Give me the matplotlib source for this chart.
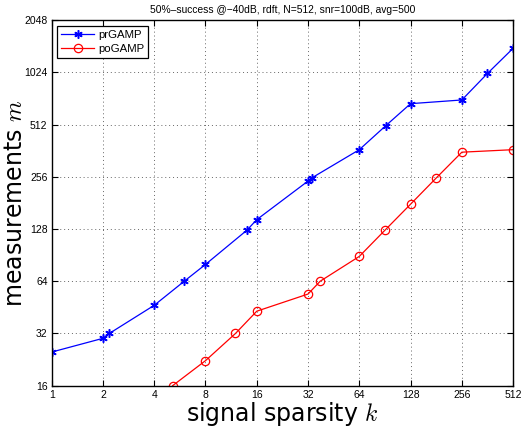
import matplotlib
matplotlib.use("Agg")
import matplotlib.pyplot as plt
from matplotlib.ticker import FixedLocator, NullLocator

plt.rcParams['mathtext.fontset'] = 'cm'

# prGAMP
k_pr = [1, 2, 2.18, 4, 6, 8, 14, 16, 32, 33.6, 64, 91.6, 128, 256, 362, 512]
m_pr = [25, 30, 32, 46.5, 64, 80, 126, 145, 242, 252, 367, 505, 676, 710, 1010, 1410]

# poGAMP
k_po = [5.13, 8, 12, 16, 32, 37.7, 64, 90.5, 128, 181, 256, 512]
m_po = [16, 22.3, 32, 43, 54, 64, 89, 126, 178, 252, 355, 367]

xticks = [1, 2, 4, 8, 16, 32, 64, 128, 256, 512]
yticks = [16, 32, 64, 128, 256, 512, 1024, 2048]

small = "Liberation Sans"

fig = plt.figure(figsize=(5.22, 4.29), dpi=100)
ax = fig.add_axes([0.099, 0.101, 0.884, 0.852])

asterisk = (6, 2, 0)
ax.plot(k_pr, m_pr, color="blue", marker=asterisk, markersize=6, mew=1.1, lw=0.9, label="prGAMP")
ax.plot(k_po, m_po, color="red", marker="o", markersize=6, mfc="none", mew=0.9, lw=0.9, label="poGAMP")

ax.set_xscale("log", base=2)
ax.set_yscale("log", base=2)
ax.set_xlim(1, 512)
ax.set_ylim(16, 2048)
ax.xaxis.set_major_locator(FixedLocator(xticks))
ax.yaxis.set_major_locator(FixedLocator(yticks))
ax.xaxis.set_minor_locator(NullLocator())
ax.yaxis.set_minor_locator(NullLocator())
ax.set_xticklabels([str(t) for t in xticks], family=small)
ax.set_yticklabels([str(t) for t in yticks], family=small)
ax.tick_params(direction="in", labelsize=7.5, top=True, right=True, length=4, pad=3)
ax.grid(True, linestyle=(0, (1, 3)), color="#666666", lw=0.7)
for s in ax.spines.values():
    s.set_linewidth(1.0)

ax.set_xlabel("signal sparsity $k$", fontsize=17, labelpad=0)
ax.set_ylabel("measurements $m$", fontsize=17)
ax.yaxis.set_label_coords(-0.053, 0.5)
ax.set_title("50%\u2013success @\u221240dB, rdft, N=512, snr=100dB, avg=500",
             fontsize=7.4, pad=5, family=small)

leg = ax.legend(loc="upper left", prop={"family": small, "size": 8.2}, fancybox=False,
                edgecolor="black", framealpha=1, borderaxespad=0.5, handlelength=2.9,
                handletextpad=0.3, borderpad=0.35, labelspacing=0.35)
leg.get_frame().set_linewidth(0.9)

fig.savefig("out.png", dpi=100)
